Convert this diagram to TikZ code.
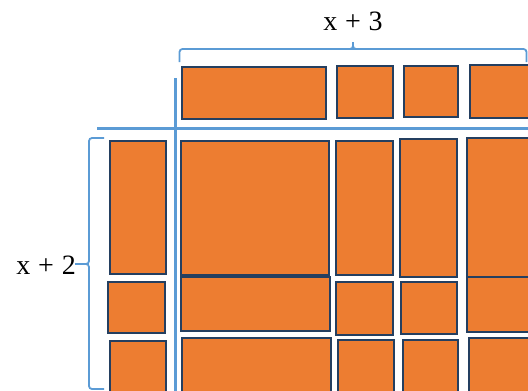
\documentclass[tikz,border=0pt]{standalone}
\usepackage{fontspec}
\setmainfont{Liberation Serif}
\definecolor{tileorange}{HTML}{ED7D31}
\definecolor{tileedge}{HTML}{243F60}
\definecolor{guideblue}{HTML}{5B9BD5}
\newcommand{\gap}{\hspace{0.28em}}
\begin{document}
\begin{tikzpicture}[x=1pt,y=-1pt,
  tile/.style={fill=tileorange,draw=tileedge,line width=2.4pt},
  guide/.style={draw=guideblue,line width=3pt},
  bracestyle/.style={draw=guideblue,line width=1.8pt,rounded corners=3pt},
  lbl/.style={font=\fontsize{28}{32}\selectfont,inner sep=0pt}]
\useasboundingbox (0,0) rectangle (528,391);
\clip (0,0) rectangle (528,391);
% guide lines
\draw[guide] (97,128) -- (540,128);
\draw[guide] (175,78) -- (175,400);
% top row
\draw[tile] (182,67) rectangle (326,119);
\draw[tile] (337,66) rectangle (393,118);
\draw[tile] (404,66) rectangle (458,117);
\draw[tile] (470,65) rectangle (540,118);
% left column
\draw[tile] (110,141) rectangle (166,274);
\draw[tile] (108,282) rectangle (165,333);
\draw[tile] (110,341) rectangle (166,400);
% column A
\draw[tile] (181,141) rectangle (329,275);
\draw[tile] (181,277) rectangle (330,331);
\draw[tile] (182,338) rectangle (331,400);
% column B
\draw[tile] (336,141) rectangle (393,275);
\draw[tile] (336,282) rectangle (393,335);
\draw[tile] (338,340) rectangle (394,400);
% column C
\draw[tile] (400,139) rectangle (457,277);
\draw[tile] (401,282) rectangle (457,334);
\draw[tile] (403,340) rectangle (458,400);
% column D
\draw[tile] (467,138) rectangle (540,277);
\draw[tile] (467,277) rectangle (540,332);
\draw[tile] (469,338) rectangle (540,400);
% braces
\coordinate (ttip) at (353,42);
\coordinate (ltip) at (75,264);
\draw[bracestyle] (179.5,62) -- (179.5,49) -- (350,49) -- (353,49) .. controls (353,46) .. (ttip);
\draw[bracestyle] (ttip) .. controls (353,46) .. (353,49) -- (356,49) -- (526.5,49) -- (526.5,62);
\draw[bracestyle] (104,138) -- (89,138) -- (89,264) -- (ltip);
\draw[bracestyle] (ltip) -- (89,264) -- (89,389) -- (104,389);
% labels
\node[lbl] (top) at (353,21) {x\gap+\gap3};
\node[lbl,anchor=east] (left) at (76,265) {x\gap+\gap2};
\end{tikzpicture}
\end{document}
